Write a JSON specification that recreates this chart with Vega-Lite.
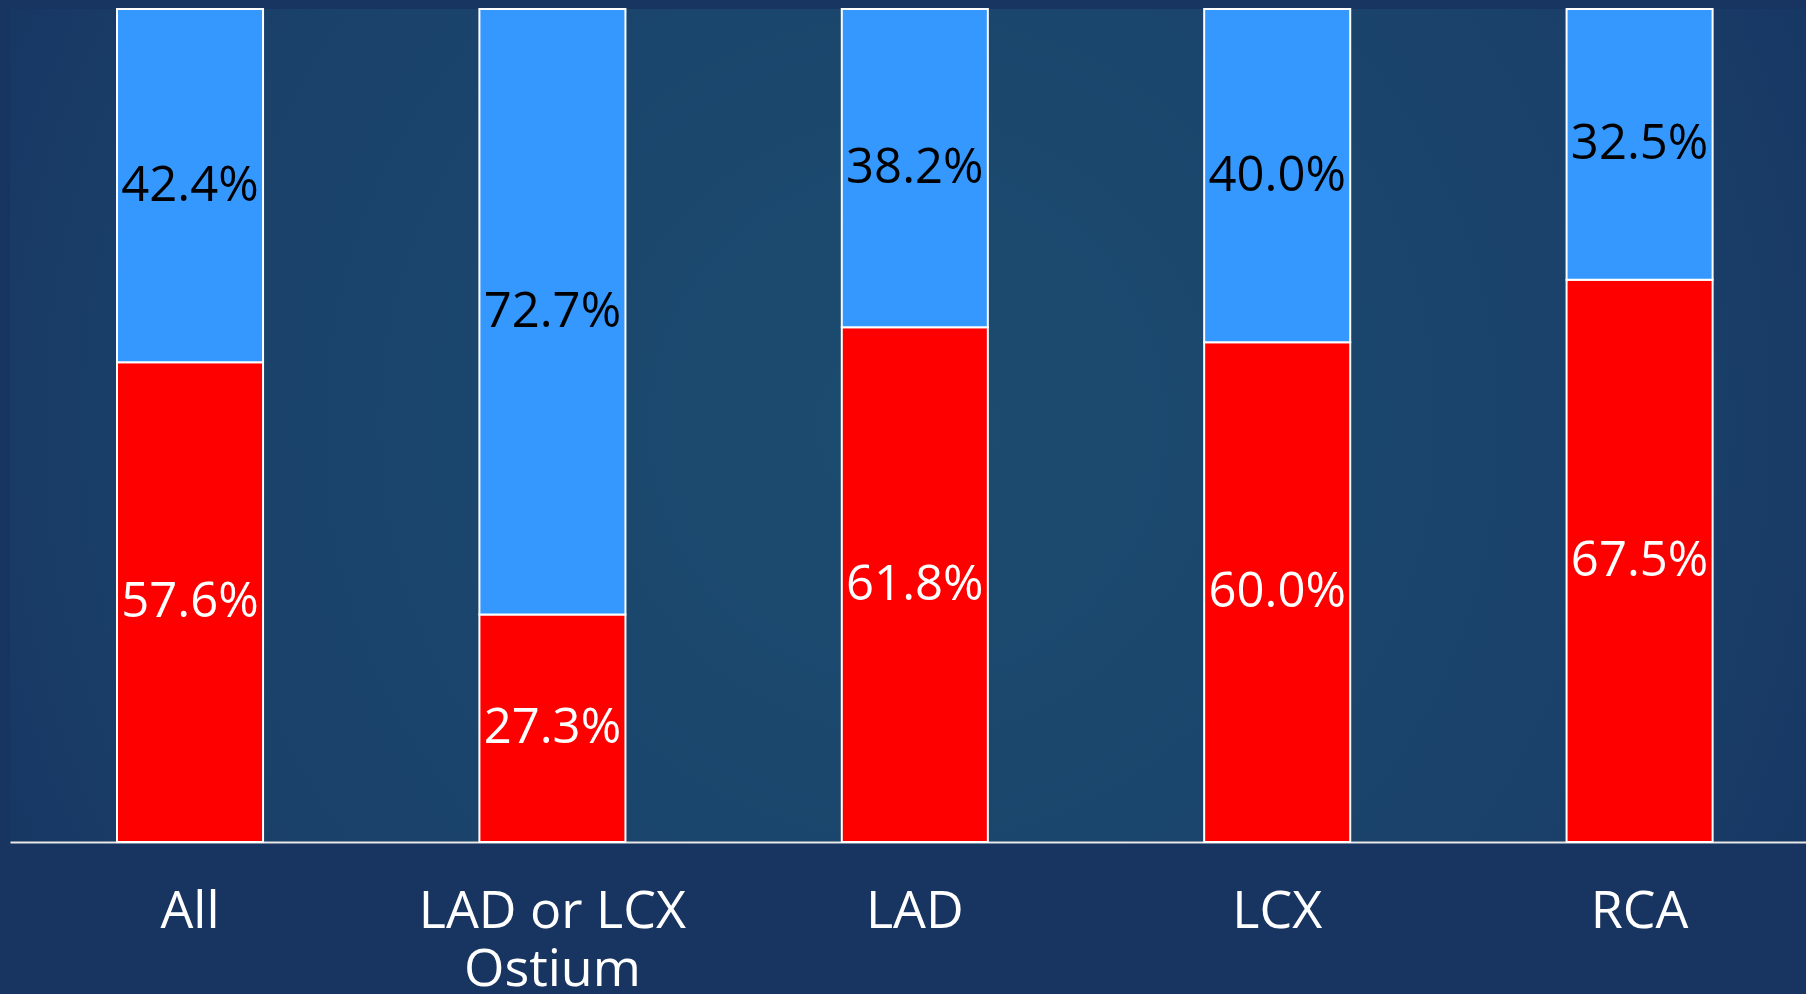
{
  "$schema": "https://vega.github.io/schema/vega-lite/v6.json",
  "width": 1796,
  "height": 833,
  "autosize": {"type": "none"},
  "padding": {"left": 10, "top": 9, "right": 0, "bottom": 152},
  "background": "#183460",
  "config": {
    "view": {
      "stroke": null,
      "fill": {
        "gradient": "radial",
        "x1": 0.5, "y1": 0.5, "r1": 0,
        "x2": 0.5, "y2": 0.5, "r2": 0.75,
        "stops": [
          {"offset": 0, "color": "#1c4c70"},
          {"offset": 0.55, "color": "#1a416a"},
          {"offset": 1, "color": "#14295a"}
        ]
      }
    },
    "font": "Open Sans"
  },
  "data": {
    "values": [
      {"category": "All", "segment": "bottom", "value": 57.6},
      {"category": "All", "segment": "top", "value": 42.4},
      {"category": "LAD or LCX Ostium", "segment": "bottom", "value": 27.3},
      {"category": "LAD or LCX Ostium", "segment": "top", "value": 72.7},
      {"category": "LAD", "segment": "bottom", "value": 61.8},
      {"category": "LAD", "segment": "top", "value": 38.2},
      {"category": "LCX", "segment": "bottom", "value": 60.0},
      {"category": "LCX", "segment": "top", "value": 40.0},
      {"category": "RCA", "segment": "bottom", "value": 67.5},
      {"category": "RCA", "segment": "top", "value": 32.5}
    ]
  },
  "transform": [
    {"calculate": "format(datum.value, '.1f') + '%'", "as": "label"},
    {"calculate": "datum.segment == 'bottom' ? 0 : 1", "as": "ord"}
  ],
  "encoding": {
    "x": {
      "field": "category",
      "type": "nominal",
      "sort": ["All", "LAD or LCX Ostium", "LAD", "LCX", "RCA"],
      "scale": {"paddingInner": 0.597, "paddingOuter": 0.2765, "align": 0.534},
      "axis": {
        "title": null,
        "labelAngle": 0,
        "labelFont": "Open Sans",
        "labelFontSize": 52,
        "labelColor": "#ffffff",
        "labelBaseline": "alphabetic",
        "labelPadding": 85,
        "labelLineHeight": 58,
        "labelLimit": 0,
        "ticks": false,
        "tickSize": 0,
        "domainColor": "#e8e8e8",
        "domainWidth": 2,
        "labelExpr": "datum.label == 'LAD or LCX Ostium' ? ['LAD or LCX', 'Ostium'] : datum.label"
      }
    },
    "y": {
      "field": "value",
      "type": "quantitative",
      "stack": "zero",
      "scale": {"domain": [0, 100], "nice": false},
      "axis": null
    },
    "order": {"field": "ord", "type": "quantitative"}
  },
  "layer": [
    {
      "mark": {"type": "bar", "stroke": "#ffffff", "strokeWidth": 2},
      "encoding": {
        "color": {
          "field": "segment",
          "type": "nominal",
          "scale": {"domain": ["bottom", "top"], "range": ["#ff0000", "#3598fe"]},
          "legend": null
        }
      }
    },
    {
      "mark": {"type": "text", "baseline": "middle", "align": "center", "fontSize": 49, "font": "Open Sans"},
      "encoding": {
        "y": {"field": "value", "type": "quantitative", "stack": "zero", "bandPosition": 0.5},
        "text": {"field": "label"},
        "color": {
          "field": "segment",
          "type": "nominal",
          "scale": {"domain": ["bottom", "top"], "range": ["#ffffff", "#000000"]},
          "legend": null
        }
      }
    }
  ],
  "resolve": {"scale": {"color": "independent"}}
}
